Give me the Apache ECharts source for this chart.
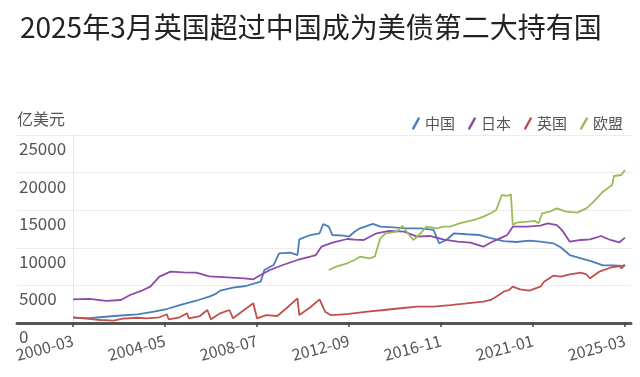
<!DOCTYPE html>
<html>
<head>
<meta charset="utf-8">
<script src="https://cdn.jsdelivr.net/npm/echarts@6/dist/echarts.min.js"></script>
<style>
  html, body { margin: 0; padding: 0; background: #fff; }
  #main { width: 640px; height: 377px; }
</style>
</head>
<body>
<div id="main"></div>
<script>
// 月份 2000-03 ~ 2025-03
const startYear = 2000, startMonth = 3, monthCount = 301;
const months = [];
for (let i = 0; i < monthCount; i++) {
  const t = startMonth - 1 + i;
  const y = startYear + Math.floor(t / 12);
  const m = (t % 12) + 1;
  months.push(y + "-" + (m < 10 ? "0" + m : m));
}

const seriesNames = ["中国", "日本", "英国", "欧盟"];
const yTicks = [0, 5000, 10000, 15000, 20000, 25000];

// 中国
const chinaData = [
  ["2000-03", 720], ["2000-12", 650], ["2001-07", 800], ["2002-05", 1000],
  ["2003-02", 1160], ["2003-11", 1500], ["2004-06", 1860], ["2005-01", 2390],
  ["2005-10", 2960], ["2006-05", 3500], ["2006-08", 3800], ["2006-11", 4300],
  ["2007-06", 4700], ["2008-01", 4920], ["2008-09", 5500], ["2008-11", 7050],
  ["2009-04", 7710], ["2009-07", 9270], ["2010-01", 9350], ["2010-05", 9040],
  ["2010-06", 11130], ["2010-12", 11700], ["2011-05", 11930], ["2011-07", 13170],
  ["2011-10", 12810], ["2011-12", 11700], ["2012-06", 11610], ["2012-09", 11500],
  ["2012-12", 12140], ["2013-03", 12590], ["2013-10", 13170], ["2014-02", 12810],
  ["2014-09", 12720], ["2015-04", 12590], ["2015-12", 12590], ["2016-07", 12370],
  ["2016-10", 10600], ["2017-02", 11040], ["2017-06", 11930], ["2018-01", 11800],
  ["2018-08", 11700], ["2019-02", 11300], ["2019-09", 10900], ["2020-04", 10770],
  ["2020-11", 10950], ["2021-05", 10810], ["2021-12", 10600], ["2022-04", 10070],
  ["2022-09", 9040], ["2023-03", 8600], ["2023-08", 8250], ["2023-12", 7940],
  ["2024-03", 7670], ["2024-09", 7670], ["2025-01", 7590], ["2025-03", 7700]
];

// 日本
const japanData = [
  ["2000-03", 3150], ["2000-12", 3200], ["2001-09", 2930], ["2002-05", 3060],
  ["2002-10", 3720], ["2003-04", 4260], ["2003-09", 4830], ["2004-02", 6160],
  ["2004-08", 6830], ["2005-03", 6740], ["2005-10", 6700], ["2006-05", 6200],
  ["2007-03", 6080], ["2007-12", 5940], ["2008-05", 5810], ["2008-09", 6380],
  ["2009-02", 7050], ["2009-09", 7710], ["2010-05", 8380], ["2010-12", 8820],
  ["2011-03", 9040], ["2011-06", 10150], ["2011-12", 10680], ["2012-08", 11170],
  ["2012-09", 11200], ["2012-12", 11100], ["2013-05", 11040], ["2013-12", 11930],
  ["2014-07", 12240], ["2015-03", 12140], ["2015-10", 11480], ["2016-05", 11570],
  ["2016-12", 11130], ["2017-08", 10810], ["2018-03", 10680], ["2018-10", 10150],
  ["2019-02", 10700], ["2019-07", 11260], ["2019-11", 11700], ["2020-02", 12810],
  ["2020-10", 12810], ["2021-05", 12940], ["2021-09", 13260], ["2022-02", 13030],
  ["2022-05", 12280], ["2022-09", 10810], ["2023-03", 11040], ["2023-08", 11130],
  ["2024-02", 11570], ["2024-07", 11040], ["2024-12", 10730], ["2025-03", 11350]
];

// 英国
const ukData = [
  ["2000-03", 760], ["2000-10", 570], ["2001-06", 400], ["2002-01", 310],
  ["2002-06", 570], ["2003-02", 700], ["2003-07", 620], ["2004-02", 760],
  ["2004-06", 1160], ["2004-07", 490], ["2005-01", 760], ["2005-05", 1290],
  ["2005-06", 620], ["2005-12", 930], ["2006-04", 1730], ["2006-06", 490],
  ["2006-11", 1290], ["2007-04", 1730], ["2007-06", 620], ["2007-12", 1730],
  ["2008-05", 2620], ["2008-07", 620], ["2008-12", 1060], ["2009-06", 930],
  ["2009-11", 1960], ["2010-05", 3280], ["2010-06", 1060], ["2010-12", 2090],
  ["2011-05", 3150], ["2011-08", 1500], ["2011-11", 1060], ["2012-06", 1160],
  ["2012-09", 1200], ["2013-07", 1500], ["2014-04", 1730], ["2015-01", 1960],
  ["2015-10", 2170], ["2016-07", 2170], ["2017-04", 2390], ["2018-01", 2620],
  ["2018-10", 2830], ["2019-02", 3060], ["2019-05", 3500], ["2019-09", 4160],
  ["2019-12", 4390], ["2020-02", 4830], ["2020-06", 4480], ["2020-11", 4300],
  ["2021-05", 4830], ["2021-07", 5490], ["2021-12", 6290], ["2022-04", 6160],
  ["2022-09", 6480], ["2023-03", 6690], ["2023-06", 6480], ["2023-08", 5940],
  ["2024-01", 6820], ["2024-07", 7350], ["2024-12", 7580], ["2025-01", 7270],
  ["2025-03", 7710]
];

// 欧盟
const euData = [
  ["2011-10", 7050], ["2012-02", 7490], ["2012-08", 7940], ["2012-12", 8380],
  ["2013-03", 8820], ["2013-08", 8600], ["2013-11", 8820], ["2014-02", 11260],
  ["2014-05", 11930], ["2014-11", 12140], ["2015-02", 12900], ["2015-05", 11930],
  ["2015-08", 11040], ["2015-12", 11930], ["2016-03", 12810], ["2016-09", 12590],
  ["2016-12", 12810], ["2017-04", 12810], ["2017-09", 13260], ["2018-05", 13700],
  ["2018-10", 14140], ["2019-02", 14590], ["2019-05", 15030], ["2019-08", 17020],
  ["2019-11", 16890], ["2020-01", 17120], ["2020-02", 13030], ["2020-04", 13340],
  ["2020-10", 13470], ["2021-02", 13570], ["2021-04", 13260], ["2021-06", 14590],
  ["2021-10", 14800], ["2022-02", 15250], ["2022-07", 14800], ["2023-01", 14670],
  ["2023-06", 15250], ["2023-10", 16130], ["2024-03", 17460], ["2024-08", 18350],
  ["2024-09", 19550], ["2025-01", 19680], ["2025-03", 20350]
];

const colors = ["#4a7ebb", "#8b4aa8", "#c0504d", "#9bbb59"];
const font = "Noto Sans CJK SC";

const chart = echarts.init(document.getElementById("main"));

const makeLine = (name, data, color) => ({
  name: name,
  type: "line",
  xAxisIndex: 0,
  yAxisIndex: 0,
  data: data,
  showSymbol: false,
  connectNulls: true,
  lineStyle: { width: 1.8, color: color },
  itemStyle: { color: color },
});

const option = {
  textStyle: { fontFamily: font },
  title: {
    text: "2025年3月英国超过中国成为美债第二大持有国",
    left: 15,
    top: 8,
    textStyle: { fontSize: 28, fontWeight: "normal", color: "#222", fontFamily: font },
  },
  legend: {
    right: 12,
    top: 111,
    data: seriesNames,
    icon: "path://M7.2,0.4 a1.4,1.4 0 0 1 2.4,1.4 L3,13.6 a1.4,1.4 0 0 1 -2.4,-1.4 Z",
    itemWidth: 8,
    itemHeight: 14,
    itemGap: 13,
    textStyle: { fontSize: 15, color: "#555", fontFamily: font },
  },
  grid: [
    { left: 73, right: 15, top: 135, bottom: 54 },
    { left: 17, right: 9, top: 135, bottom: 54 },
  ],
  xAxis: [
    {
      type: "category",
      gridIndex: 0,
      data: months,
      boundaryGap: false,
      axisLine: { show: false },
      axisTick: { show: true, interval: 49, length: 4, lineStyle: { color: "#444", width: 1.5 } },
      axisLabel: {
        interval: 49,
        rotate: 15,
        margin: 17,
        fontSize: 16,
        color: "#555",
        fontFamily: font,
      },
      splitLine: { show: false },
    },
    {
      type: "value",
      gridIndex: 1,
      min: 0,
      max: 1,
      axisLine: { show: true, lineStyle: { color: "#555", width: 3 } },
      axisTick: { show: false },
      axisLabel: { show: false },
      splitLine: { show: false },
    },
  ],
  yAxis: [
    {
      type: "value",
      gridIndex: 0,
      min: 0,
      max: 25000,
      interval: 5000,
      axisLine: { show: true, lineStyle: { color: "#e6e6e6", width: 1 } },
      axisTick: { show: false },
      axisLabel: { show: false },
      splitLine: { show: false },
    },
    {
      type: "value",
      gridIndex: 1,
      min: yTicks[0],
      max: yTicks[yTicks.length - 1],
      interval: 5000,
      name: "亿美元",
      nameLocation: "end",
      nameGap: 8,
      nameTextStyle: { align: "left", fontSize: 16, color: "#555", fontFamily: font },
      axisLine: { show: false },
      axisTick: { show: false },
      axisLabel: {
        inside: true,
        showMinLabel: true,
        margin: 2,
        verticalAlign: "top",
        padding: [5, 0, 0, 0],
        fontSize: 17,
        color: "#555",
        fontFamily: font,
        formatter: (v) => String(v),
      },
      splitLine: { show: true, lineStyle: { color: "#ececec", width: 1 } },
    },
  ],
  series: [
    makeLine(seriesNames[0], chinaData, colors[0]),
    makeLine(seriesNames[1], japanData, colors[1]),
    makeLine(seriesNames[2], ukData, colors[2]),
    makeLine(seriesNames[3], euData, colors[3]),
  ],
};

chart.setOption(option);
</script>
</body>
</html>
